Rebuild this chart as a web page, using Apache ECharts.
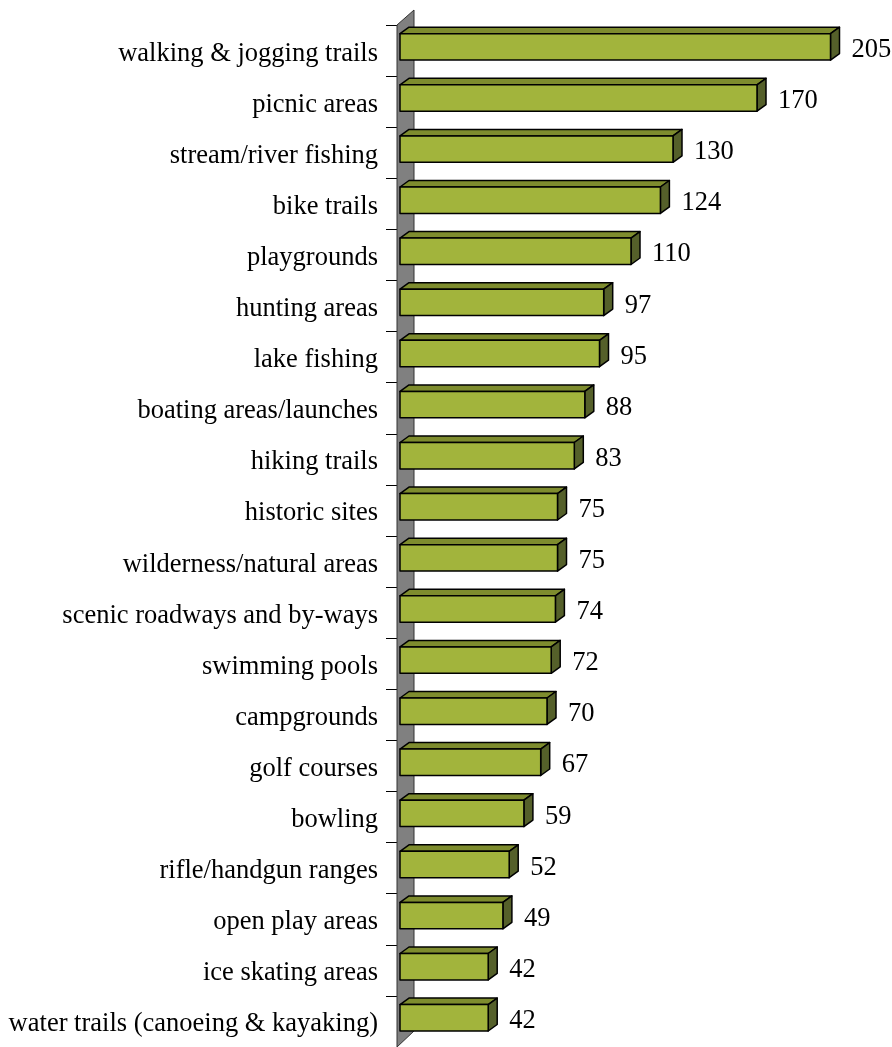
<!DOCTYPE html>
<html>
<head>
<meta charset="utf-8">
<script src="https://cdn.jsdelivr.net/npm/echarts@6/dist/echarts.min.js"></script>
<style>
  html, body { margin: 0; padding: 0; background: #fff; }
  #chart { width: 892px; height: 1047px; }
</style>
</head>
<body>
<div id="chart"></div>
<script>
// Facilities in demand, count of responses
const categories = [
  'walking & jogging trails',
  'picnic areas',
  'stream/river fishing',
  'bike trails',
  'playgrounds',
  'hunting areas',
  'lake fishing',
  'boating areas/launches',
  'hiking trails',
  'historic sites',
  'wilderness/natural areas',
  'scenic roadways and by-ways',
  'swimming pools',
  'campgrounds',
  'golf courses',
  'bowling',
  'rifle/handgun ranges',
  'open play areas',
  'ice skating areas',
  'water trails (canoeing & kayaking)'
];
const counts = [205, 170, 130, 124, 110, 97, 95, 88, 83, 75, 75, 74, 72, 70, 67, 59, 52, 49, 42, 42];

const FONT = "'Liberation Serif', 'Times New Roman', serif";
const FRONT = '#a2b43c';
const TOP = '#7e8c2e';
const SIDE = '#55602a';
const DX = 9, DY = -6.5;

const chart = echarts.init(document.getElementById('chart'));

// gray back wall behind the bars
function renderWall(params, api) {
  const cs = params.coordSys;
  const x = cs.x - 3, top = cs.y, bottom = cs.y + cs.height;
  return {
    type: 'polygon',
    shape: { points: [[x, top], [x + 17, top - 15], [x + 17, bottom - 16], [x, bottom]] },
    style: { fill: '#808080', stroke: '#333', lineWidth: 1 }
  };
}

// 3D-looking bar: front face, top face, right face and value text
function renderBar(params, api) {
  const v = api.value(0), idx = api.value(1);
  const end = api.coord([v, idx]);
  const start = api.coord([0, idx]);
  const band = api.size([0, 1])[1];
  const x0 = start[0], x1 = end[0];
  const ft = end[1] - 0.33 * band;
  const fb = ft + 0.517 * band;
  const line = { stroke: '#000', lineWidth: 1.5, lineJoin: 'round' };
  return {
    type: 'group',
    children: [
      { type: 'polygon', shape: { points: [[x0, ft], [x0 + DX, ft + DY], [x1 + DX, ft + DY], [x1, ft]] },
        style: Object.assign({ fill: TOP }, line) },
      { type: 'polygon', shape: { points: [[x1, ft], [x1 + DX, ft + DY], [x1 + DX, fb + DY], [x1, fb]] },
        style: Object.assign({ fill: SIDE }, line) },
      { type: 'rect', shape: { x: x0, y: ft, width: x1 - x0, height: fb - ft },
        style: Object.assign({ fill: FRONT }, line) },
      { type: 'text',
        style: { text: String(v), x: x1 + DX + 12, y: end[1] - 0.5,
                 fill: '#000', fontFamily: FONT, fontSize: 26.5,
                 align: 'left', verticalAlign: 'middle' } }
    ]
  };
}

chart.setOption({
  animation: false,
  backgroundColor: '#fff',
  grid: { left: 400, right: 30, top: 25, height: 1025 },
  xAxis: { type: 'value', min: 0, max: 220, show: false },
  yAxis: {
    type: 'category',
    inverse: true,
    data: categories,
    offset: 3,
    axisLine: { show: false },
    axisTick: { show: true, length: 14, lineStyle: { color: '#000', width: 1 } },
    axisLabel: {
      margin: 19,
      formatter: (name) => '{c|' + name + '}',
      rich: {
        c: { color: '#000', fontFamily: FONT, fontSize: 26.5, lineHeight: 30, padding: [6, 0, 0, 0] }
      }
    },
    splitLine: { show: false }
  },
  series: [
    {
      type: 'custom',
      z: 1,
      silent: true,
      renderItem: renderWall,
      data: [[0, 0]],
      encode: { x: 0, y: 1 }
    },
    {
      type: 'custom',
      z: 2,
      renderItem: renderBar,
      data: counts.map((c, i) => [c, i]),
      encode: { x: 0, y: 1 }
    }
  ]
});
</script>
</body>
</html>
